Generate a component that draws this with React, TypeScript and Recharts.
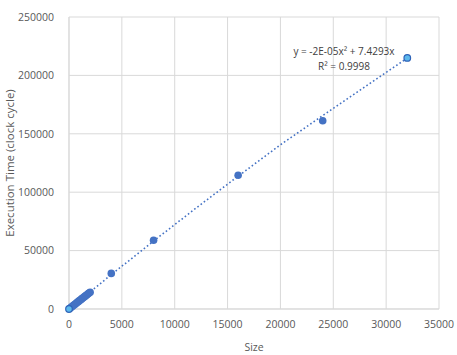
import {
  ScatterChart,
  Scatter,
  XAxis,
  YAxis,
  CartesianGrid,
} from "recharts";

// measured points (size, clock cycles)
const sizes = [
  100, 200, 300, 400, 500, 600, 700, 800, 900, 1000, 1100, 1200, 1300, 1400,
  1500, 1600, 1700, 1800, 1900, 2000, 4000, 8000, 16000, 24000,
];
const cycles = [
  700, 1450, 2150, 2900, 3600, 4300, 5050, 5750, 6500, 7200, 7900, 8650, 9350,
  10050, 10800, 11500, 12200, 12950, 13650, 14300, 30500, 58900, 114500, 161200,
];

// endpoints drawn lighter
const highlightSizes = [0, 32000];
const highlightCycles = [0, 215000];

// polynomial trendline
const trendSizes = [0, 4000, 8000, 12000, 16000, 20000, 24000, 28000, 32000];
const trendCycles = [0, 29400, 58200, 86300, 113700, 140600, 165600, 190300, 214800];

const xTicks = [0, 5000, 10000, 15000, 20000, 25000, 30000, 35000];
const yTicks = [0, 50000, 100000, 150000, 200000, 250000];

const points = sizes.map((s, i) => ({ size: s, time: cycles[i] }));
const highlights = highlightSizes.map((s, i) => ({ size: s, time: highlightCycles[i] }));
const trend = trendSizes.map((s, i) => ({ size: s, time: trendCycles[i] }));

const font = "'Open Sans', 'Noto Sans', sans-serif";
const grey = "#595959";

const Dot = (props: any) => (
  <circle cx={props.cx} cy={props.cy} r={3.8} fill="#4472c4" />
);
const LightDot = (props: any) => (
  <circle cx={props.cx} cy={props.cy} r={3.3} fill="#5cb8ec" stroke="#2e63b8" strokeWidth={1.2} />
);
const NoDot = () => <g />;

export default function App() {
  return (
    <div style={{ position: "fixed", left: 0, top: 0, width: 457, height: 355, background: "#fff" }}>
      <ScatterChart
        width={457}
        height={355}
        margin={{ top: 17, right: 18, left: 0, bottom: 0 }}
      >
        <CartesianGrid stroke="#d9d9d9" />
        <XAxis
          type="number"
          dataKey="size"
          domain={[0, 35000]}
          ticks={xTicks}
          tickLine={false}
          axisLine={{ stroke: "#d9d9d9" }}
          tick={{ fontSize: 10.5, fill: grey, fontFamily: font }}
          tickMargin={6}
          height={46}
          label={{ value: "Size", position: "insideBottom", offset: 4, fontSize: 10.5, fill: grey, fontFamily: font }}
        />
        <YAxis
          type="number"
          dataKey="time"
          domain={[0, 250000]}
          ticks={yTicks}
          tickLine={false}
          axisLine={{ stroke: "#d9d9d9" }}
          tick={{ fontSize: 10.5, fill: grey, fontFamily: font }}
          tickMargin={9}
          width={69}
          label={{
            value: "Execution Time (clock cycle)",
            angle: -90,
            position: "insideLeft",
            offset: 10,
            style: { textAnchor: "middle" },
            fontSize: 11.5,
            fill: grey,
            fontFamily: font,
          }}
        />
        <Scatter
          data={trend}
          line={{ stroke: "#4472c4", strokeWidth: 1.6, strokeDasharray: "1.6 2.4" }}
          shape={NoDot}
          isAnimationActive={false}
        />
        <Scatter data={points} shape={Dot} isAnimationActive={false} />
        <Scatter data={highlights} shape={LightDot} isAnimationActive={false} />
      </ScatterChart>
      <div
        style={{
          position: "absolute",
          left: 264,
          width: 160,
          top: 44,
          textAlign: "center",
          fontSize: 10,
          lineHeight: "15px",
          color: "#404040",
          fontFamily: font,
        }}
      >
        <div>y = -2E-05x² + 7.4293x</div>
        <div>R² = 0.9998</div>
      </div>
    </div>
  );
}
